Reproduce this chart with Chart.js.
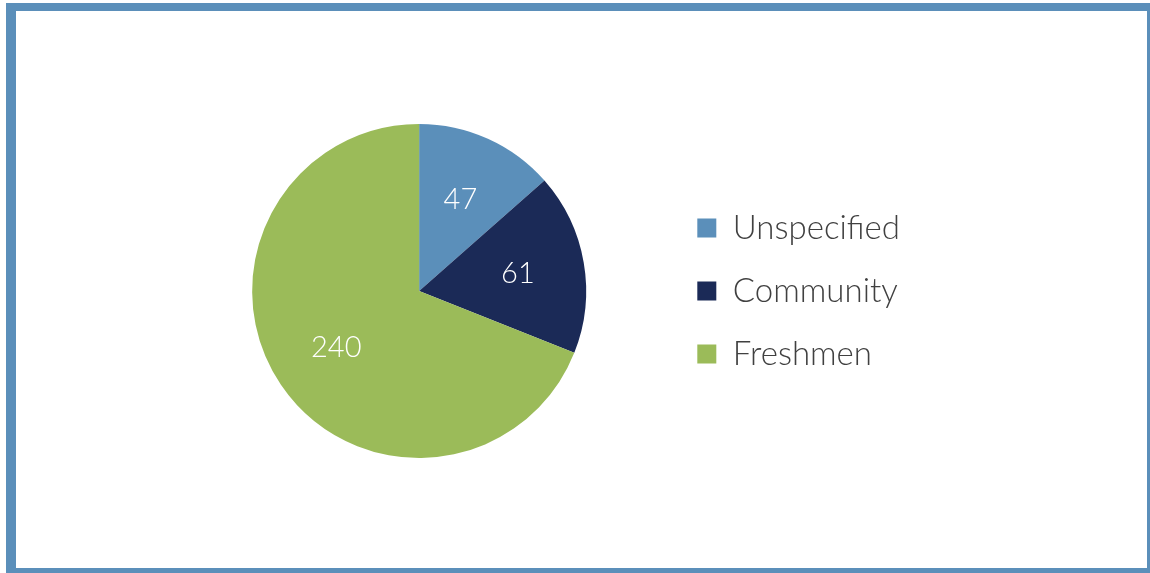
<!DOCTYPE html>
<html>
<head>
<meta charset="utf-8">
<script src="https://cdn.jsdelivr.net/npm/chart.js@4/dist/chart.umd.min.js"></script>
<style>
    html, body { margin: 0; padding: 0; background: #ffffff; }
    #frame {
        position: absolute; left: 6px; top: 3px; right: 0; bottom: 0;
        border-style: solid; border-color: #5b8fba;
        border-width: 8px 3px 5px 10px;
    }
    #wrap { position: absolute; left: 0; top: 0; width: 1150px; height: 573px; }
</style>
</head>
<body>
<div id="frame"></div>
<div id="wrap"><canvas id="pieChart"></canvas></div>
<script>
// values
const categories = ['Unspecified', 'Community', 'Freshmen'];
const counts = [47, 61, 240];
const sliceColors = ['#5b8fba', '#1b2a57', '#9bbb59'];

// white numbers inside each slice
const sliceLabels = {
    id: 'sliceLabels',
    afterDatasetsDraw(chart) {
        const ctx = chart.ctx;
        const meta = chart.getDatasetMeta(0);
        ctx.save();
        ctx.fillStyle = '#ffffff';
        ctx.font = '300 29px Lato, "Open Sans", sans-serif';
        ctx.textAlign = 'center';
        ctx.textBaseline = 'middle';
        meta.data.forEach(function(arc, i) {
            const p = arc.getProps(['x', 'y', 'startAngle', 'endAngle', 'outerRadius'], true);
            const mid = (p.startAngle + p.endAngle) / 2;
            const r = p.outerRadius * 0.6;
            ctx.fillText(String(counts[i]), p.x + Math.cos(mid) * r, p.y + Math.sin(mid) * r);
        });
        ctx.restore();
    }
};

const ctx = document.getElementById('pieChart').getContext('2d');

new Chart(ctx, {
    type: 'pie',
    data: {
        labels: categories,
        datasets: [{
            data: counts,
            backgroundColor: sliceColors,
            borderWidth: 0
        }]
    },
    options: {
        responsive: true,
        maintainAspectRatio: false,
        animation: false,
        layout: {
            padding: { top: 124, bottom: 115, left: 171, right: 240 }
        },
        plugins: {
            tooltip: { enabled: false },
            legend: {
                position: 'right',
                labels: {
                    boxWidth: 19,
                    boxHeight: 19,
                    padding: 30,
                    color: '#404040',
                    font: { family: 'Lato, "Open Sans", sans-serif', size: 33, weight: '300' }
                }
            }
        }
    },
    plugins: [sliceLabels]
});
</script>
</body>
</html>
